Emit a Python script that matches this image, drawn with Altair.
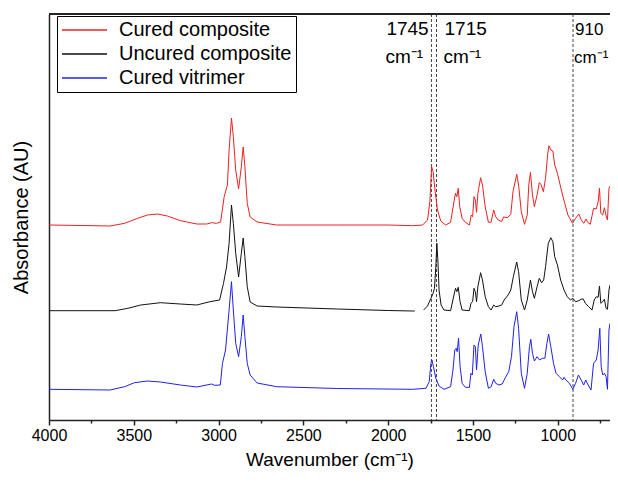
import altair as alt
import pandas as pd

FONT = "Liberation Sans"

series_names = ["Cured composite", "Uncured composite", "Cured vitrimer"]
series_colors = ["#ee2020", "#111111", "#2020ee"]

# (wavenumber cm-1, absorbance AU, offset spectra)
red_pts = [
    (4000, 1.98), (3800, 1.975), (3640, 1.97), (3554, 1.997), (3477, 2.047), (3419, 2.08),
    (3360, 2.09), (3302, 2.07), (3225, 2.023), (3128, 1.99), (3070, 1.99), (3041, 2.003),
    (3012, 1.997), (2988, 2.01), (2967, 2.263), (2948, 2.38), (2938, 2.73), (2924, 3.05),
    (2913, 2.863), (2899, 2.53), (2882, 2.34), (2866, 2.563), (2855, 2.76), (2845, 2.563),
    (2831, 2.197), (2814, 2.06), (2773, 2.01), (2657, 1.98), (2300, 1.98), (2000, 1.98),
    (1855, 1.973), (1797, 1.98), (1768, 2.03), (1754, 2.213), (1744, 2.563), (1735, 2.513),
    (1723, 2.313), (1709, 2.13), (1690, 2.02), (1661, 1.98), (1632, 2.007), (1612, 2.213),
    (1603, 2.297), (1595, 2.263), (1587, 2.347), (1578, 2.163), (1564, 2.047), (1545, 2.007),
    (1521, 1.98), (1510, 2.08), (1502, 2.063), (1494, 2.263), (1486, 2.23), (1479, 2.107),
    (1471, 2.297), (1455, 2.453), (1444, 2.38), (1428, 2.163), (1409, 2.007), (1393, 2.007),
    (1378, 2.13), (1366, 2.063), (1351, 2.03), (1331, 2.013), (1320, 2.06), (1297, 2.053),
    (1277, 2.087), (1264, 2.313), (1242, 2.487), (1231, 2.38), (1215, 2.113), (1196, 1.987),
    (1180, 2.08), (1171, 2.38), (1161, 2.507), (1149, 2.28), (1138, 2.163), (1122, 2.28),
    (1109, 2.403), (1099, 2.387), (1085, 2.313), (1072, 2.447), (1060, 2.68), (1052, 2.773),
    (1041, 2.73), (1029, 2.72), (1018, 2.58), (1002, 2.497), (979, 2.33), (959, 2.197),
    (940, 2.08), (913, 1.997), (895, 2.047), (876, 2.09), (861, 2.03), (847, 1.997),
    (833, 2.04), (824, 2.007), (808, 1.987), (789, 2.147), (773, 2.14), (762, 2.213),
    (754, 2.347), (746, 2.097), (735, 2.08), (725, 2.153), (715, 2.073), (707, 2.03),
    (698, 2.347), (692, 2.37),
]

black_pts_1 = [
    (4000, 1.123), (3610, 1.123), (3535, 1.147), (3459, 1.18), (3343, 1.203), (3225, 1.19),
    (3128, 1.18), (3052, 1.213), (2994, 1.23), (2971, 1.397), (2953, 1.56), (2938, 1.797),
    (2924, 2.18), (2913, 1.997), (2899, 1.697), (2882, 1.46), (2866, 1.697), (2855, 1.85),
    (2845, 1.663), (2831, 1.363), (2814, 1.21), (2773, 1.17), (2657, 1.16), (2300, 1.14),
    (2000, 1.125), (1855, 1.12), (1843, 1.12),
]
black_pts_2 = [
    (1791, 1.13), (1768, 1.17), (1748, 1.247), (1735, 1.297), (1727, 1.347), (1719, 1.563),
    (1713, 1.797), (1707, 1.63), (1700, 1.33), (1688, 1.18), (1671, 1.13), (1632, 1.123),
    (1612, 1.28), (1603, 1.347), (1595, 1.313), (1587, 1.357), (1576, 1.213), (1564, 1.13),
    (1521, 1.123), (1512, 1.197), (1502, 1.213), (1494, 1.347), (1486, 1.313), (1479, 1.213),
    (1471, 1.363), (1455, 1.503), (1444, 1.43), (1428, 1.263), (1409, 1.163), (1393, 1.13),
    (1378, 1.18), (1366, 1.163), (1347, 1.17), (1331, 1.18), (1316, 1.23), (1293, 1.28),
    (1277, 1.33), (1262, 1.463), (1242, 1.61), (1231, 1.513), (1215, 1.23), (1196, 1.13),
    (1180, 1.23), (1161, 1.43), (1149, 1.313), (1138, 1.247), (1122, 1.363), (1109, 1.447),
    (1095, 1.403), (1083, 1.43), (1072, 1.563), (1056, 1.797), (1041, 1.853), (1029, 1.813),
    (1018, 1.663), (1002, 1.58), (983, 1.43), (963, 1.33), (944, 1.263), (925, 1.23),
    (911, 1.247), (895, 1.213), (876, 1.223), (862, 1.237), (851, 1.243), (837, 1.197),
    (818, 1.163), (798, 1.13), (785, 1.23), (773, 1.263), (762, 1.257), (754, 1.37),
    (746, 1.197), (735, 1.213), (725, 1.237), (715, 1.147), (707, 1.137), (698, 1.33),
    (692, 1.38),
]

blue_pts = [
    (4000, 0.337), (3640, 0.33), (3554, 0.363), (3496, 0.403), (3419, 0.42), (3343, 0.41),
    (3225, 0.38), (3128, 0.36), (3041, 0.39), (3023, 0.377), (2990, 0.38), (2977, 0.597),
    (2959, 0.73), (2938, 1.13), (2924, 1.413), (2913, 1.13), (2899, 0.797), (2882, 0.663),
    (2866, 0.863), (2855, 1.08), (2845, 0.863), (2831, 0.597), (2814, 0.48), (2773, 0.40),
    (2657, 0.363), (2300, 0.345), (1855, 0.337), (1777, 0.347), (1758, 0.413), (1748, 0.597),
    (1742, 0.63), (1733, 0.563), (1719, 0.447), (1700, 0.37), (1671, 0.337), (1632, 0.363),
    (1618, 0.53), (1607, 0.73), (1599, 0.747), (1593, 0.713), (1585, 0.847), (1576, 0.563),
    (1564, 0.397), (1545, 0.357), (1521, 0.357), (1512, 0.497), (1504, 0.48), (1494, 0.78),
    (1486, 0.763), (1479, 0.53), (1469, 0.78), (1454, 0.89), (1444, 0.763), (1428, 0.513),
    (1409, 0.347), (1393, 0.363), (1378, 0.437), (1366, 0.397), (1347, 0.38), (1328, 0.39),
    (1308, 0.457), (1289, 0.513), (1273, 0.663), (1258, 0.963), (1242, 1.113), (1231, 0.947),
    (1215, 0.497), (1196, 0.347), (1180, 0.497), (1167, 0.763), (1159, 0.837), (1149, 0.697),
    (1138, 0.62), (1122, 0.663), (1107, 0.63), (1091, 0.647), (1076, 0.647), (1064, 0.797),
    (1054, 0.89), (1041, 0.763), (1025, 0.597), (1010, 0.497), (990, 0.463), (971, 0.43),
    (963, 0.457), (952, 0.43), (934, 0.403), (911, 0.337), (895, 0.397), (878, 0.48),
    (862, 0.43), (847, 0.38), (835, 0.43), (824, 0.39), (804, 0.33), (789, 0.597),
    (773, 0.63), (762, 0.73), (752, 0.947), (744, 0.563), (735, 0.48), (725, 0.497),
    (715, 0.463), (707, 0.337), (698, 0.93), (692, 0.997),
]

marker_wn = [1745, 1715, 910]
marker_labels = ["1745", "1715", "910"]
x_tick_values = [4000, 3750, 3500, 3250, 3000, 2750, 2500, 2250, 2000, 1750, 1500, 1250, 1000, 750]

rows = []
for name, seg, pts in [
    ("Cured composite", "r", red_pts),
    ("Uncured composite", "k1", black_pts_1),
    ("Uncured composite", "k2", black_pts_2),
    ("Cured vitrimer", "b", blue_pts),
]:
    for wn, a in pts:
        rows.append({"series": name, "seg": seg, "wn": wn, "a": a})
df = pd.DataFrame(rows)

W, H = 561, 406
x_scale = alt.Scale(domain=[4000, 692], nice=False, zero=False)
y_scale = alt.Scale(domain=[0.03, 4.09], nice=False, zero=False)

x_axis = alt.Axis(
    values=x_tick_values, format="d", labelFlush=False,
    labelExpr="datum.value % 500 === 0 ? datum.label : ''",
    tickSize={"condition": {"test": "datum.value % 500 === 0", "value": 5}, "value": 3},
    tickWidth=1.5, tickColor="#222", domainColor="#222", domainWidth=1.5,
    labelFont=FONT, labelFontSize=16, labelColor="black", labelPadding=2,
    title="Wavenumber (cm⁻¹)", titleFont=FONT, titleFontSize=19,
    titleFontWeight="normal", titleColor="black", titlePadding=7, grid=False,
)
y_axis = alt.Axis(
    labels=False, ticks=False, grid=False, domainColor="#222", domainWidth=1.5,
    title="Absorbance (AU)", titleFont=FONT, titleFontSize=20,
    titleFontWeight="normal", titleColor="black", titlePadding=18,
)

lines = alt.Chart(df).mark_line(strokeWidth=1, clip=True).encode(
    x=alt.X("wn:Q", scale=x_scale, axis=x_axis),
    y=alt.Y("a:Q", scale=y_scale, axis=y_axis),
    color=alt.Color(
        "series:N",
        scale=alt.Scale(domain=series_names, range=series_colors),
        legend=alt.Legend(
            title=None, orient="none", legendX=8, legendY=2,
            strokeColor="black", fillColor="white", padding=4,
            labelFont=FONT, labelFontSize=20, labelColor="black", labelOffset=11,
            labelLimit=400,
            symbolType="stroke", symbolSize=2025, symbolStrokeWidth=1.5,
            clipHeight=20, rowPadding=4, cornerRadius=0,
        ),
    ),
    detail="seg:N",
)

mk = pd.DataFrame({"wn": marker_wn, "label": marker_labels})
rules = alt.Chart(mk).mark_rule(strokeDash=[3, 2], color="#444", strokeWidth=1).encode(
    x=alt.X("wn:Q", scale=x_scale)
)

label_dx = {"1745": -45, "1715": 8, "910": 2}
label_size = {"1745": 19, "1715": 19, "910": 17}
texts = []
for lab in marker_labels:
    sub = mk[mk["label"] == lab]
    base = alt.Chart(sub)
    texts.append(
        base.mark_text(align="left", baseline="alphabetic", dx=label_dx[lab],
                       font=FONT, fontSize=label_size[lab], color="black")
        .encode(x=alt.X("wn:Q", scale=x_scale), y=alt.value(21), text="label:N")
    )
    texts.append(
        base.mark_text(align="left", baseline="alphabetic", dx=label_dx[lab] - 1,
                       font=FONT, fontSize=label_size[lab], color="black")
        .encode(x=alt.X("wn:Q", scale=x_scale), y=alt.value(49), text=alt.value("cm⁻¹"))
    )

top_frame = alt.Chart(mk).mark_rule(color="#222", strokeWidth=1.5).encode(
    x=alt.value(0), x2=alt.value(W), y=alt.value(0)
)

chart = alt.layer(rules, lines, *texts, top_frame).properties(
    width=W, height=H,
    autosize=alt.AutoSizeParams(type="none"),
    padding={"left": 41, "top": 6, "right": 0, "bottom": 51},
).configure_view(strokeWidth=0)

chart.save("out.html", embed_options={"renderer": "svg", "actions": False})
